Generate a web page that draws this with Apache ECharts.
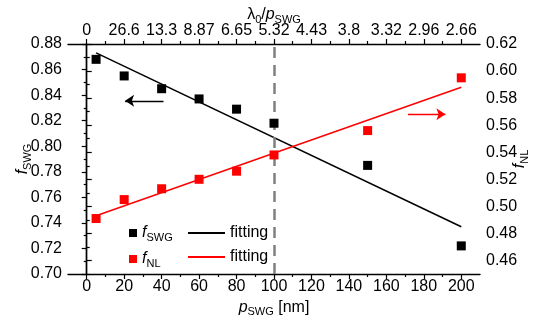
<!DOCTYPE html>
<html><head><meta charset="utf-8">
<script src="https://cdn.jsdelivr.net/npm/echarts@6/dist/echarts.min.js"></script>
<style>html,body{margin:0;padding:0;background:#fff}#c{width:538px;height:320px}</style>
</head><body><div id="c"></div>
<script>
// ---- data ----
const pSWG = [5, 20, 40, 60, 80, 100, 150, 200];
const fSWG = [0.868, 0.855, 0.845, 0.837, 0.829, 0.818, 0.785, 0.722];
const fNL  = [0.491, 0.505, 0.513, 0.520, 0.526, 0.538, 0.556, 0.595];
const fitX = [5, 200];
const fitSWG = [0.873, 0.737];
const fitNL  = [0.493, 0.588];
const bottomTicks = [0, 20, 40, 60, 80, 100, 120, 140, 160, 180, 200];
const bottomMinor = [10, 30, 50, 70, 90, 110, 130, 150, 170, 190];
const topLabels = ['0', '26.6', '13.3', '8.87', '6.65', '5.32', '4.43', '3.8', '3.32', '2.96', '2.66'];
const rightTicks = [0.46, 0.48, 0.50, 0.52, 0.54, 0.56, 0.58, 0.60, 0.62];
const rightMinor = [0.45, 0.47, 0.49, 0.51, 0.53, 0.55, 0.57, 0.59, 0.61];
const markX = 100;

const FONT = 'Liberation Sans';
const rich = {
  i: {fontStyle: 'italic', fontSize: 16, fontFamily: FONT, color: '#000', verticalAlign: 'middle', lineHeight: 20},
  n: {fontSize: 16, fontFamily: FONT, color: '#000', verticalAlign: 'middle', lineHeight: 20},
  s: {fontSize: 11, fontFamily: FONT, color: '#000', verticalAlign: 'bottom', lineHeight: 12}
};
const legendNames = {
  'fSWG': '{i|f}{s|SWG}',
  'fNL': '{i|f}{s|NL}',
  'fit1': '{n|fitting}',
  'fit2': '{n|fitting}'
};
const axisLine = {show: true, lineStyle: {color: '#000', width: 1.4}};
const lbl = {color: '#000', fontSize: 16, fontFamily: FONT};

const chart = echarts.init(document.getElementById('c'), null, {renderer: 'canvas'});
chart.setOption({
  animation: false,
  backgroundColor: '#fff',
  grid: {left: 68, right: 58, top: 44, bottom: 46, containLabel: false, outerBoundsMode: 'none'},
  legend: [
    {orient: 'vertical', left: 124, top: 220, itemWidth: 8, itemHeight: 8, itemGap: 8,
     data: [{name: 'fSWG', icon: 'rect'}, {name: 'fNL', icon: 'rect'}],
     formatter: n => legendNames[n], textStyle: {rich: rich}},
    {orient: 'vertical', left: 183, top: 220, itemWidth: 37, itemHeight: 2, itemGap: 8,
     data: [{name: 'fit1', icon: 'rect'}, {name: 'fit2', icon: 'rect'}],
     formatter: n => legendNames[n], textStyle: {rich: rich}}
  ],
  xAxis: [
    {type: 'value', position: 'bottom', min: -10, max: 210, splitLine: {show: false},
     axisLine: axisLine,
     axisTick: {show: true, length: 5, customValues: bottomTicks, lineStyle: {color: '#000', width: 1.2}},
     axisLabel: Object.assign({customValues: bottomTicks, margin: 5}, lbl),
     name: '{i|p}{s|SWG}{n| [nm]}', nameLocation: 'middle', nameGap: 20,
     nameTextStyle: {rich: rich}},
    {type: 'value', position: 'bottom', min: -10, max: 210, splitLine: {show: false},
     axisLine: {show: false},
     axisTick: {show: true, length: 3, customValues: bottomMinor, lineStyle: {color: '#000', width: 1.2}},
     axisLabel: {show: false}},
    {type: 'value', position: 'top', min: -10, max: 210, splitLine: {show: false},
     axisLine: axisLine,
     axisTick: {show: true, length: 5, customValues: bottomTicks, lineStyle: {color: '#000', width: 1.2}},
     axisLabel: Object.assign({customValues: bottomTicks, margin: 5,
       formatter: v => topLabels[bottomTicks.indexOf(Math.round(v))]}, lbl),
     name: '{n|λ}{s|0}{n|/}{i|p}{s|SWG}', nameLocation: 'middle', nameGap: 19,
     nameMoveOverlap: false,
     nameTextStyle: {rich: rich}},
    {type: 'value', position: 'top', min: -10, max: 210, splitLine: {show: false},
     axisLine: {show: false},
     axisTick: {show: true, length: 3, customValues: bottomMinor, lineStyle: {color: '#000', width: 1.2}},
     axisLabel: {show: false}}
  ],
  yAxis: [
    {type: 'value', position: 'left', min: 0.70, max: 0.88, interval: 0.02, splitLine: {show: false},
     axisLine: axisLine,
     axisTick: {show: true, length: 5, lineStyle: {color: '#000', width: 1.2}},
     minorTick: {show: true, splitNumber: 2, length: 3, lineStyle: {color: '#000', width: 1.2}},
     minorSplitLine: {show: false},
     axisLabel: Object.assign({margin: 6, formatter: v => v.toFixed(2)}, lbl),
     name: '{i|f}{s|SWG}', nameLocation: 'middle', nameGap: 35, nameRotate: 90,
     nameMoveOverlap: false,
     nameTextStyle: {rich: rich}},
    {type: 'value', position: 'right', min: 0.45, max: 0.62, splitLine: {show: false},
     axisLine: axisLine,
     axisTick: {show: true, length: 5, customValues: rightTicks, lineStyle: {color: '#000', width: 1.2}},
     axisLabel: Object.assign({customValues: rightTicks, margin: 6, formatter: v => v.toFixed(2)}, lbl),
     name: '{i|f}{s|NL}', nameLocation: 'middle', nameGap: 30, nameRotate: 90,
     nameMoveOverlap: false,
     nameTextStyle: {rich: rich}},
    {type: 'value', position: 'right', min: 0.45, max: 0.62, splitLine: {show: false},
     axisLine: {show: false},
     axisTick: {show: true, length: 3, customValues: rightMinor, lineStyle: {color: '#000', width: 1.2}},
     axisLabel: {show: false}}
  ],
  series: [
    {name: 'fit1', type: 'line', xAxisIndex: 0, yAxisIndex: 0, symbol: 'none',
     lineStyle: {color: '#000', width: 1.5}, itemStyle: {color: '#000'},
     data: fitX.map((x, i) => [x, fitSWG[i]]), z: 2,
     markLine: {silent: true, symbol: ['none', 'none'], label: {show: false},
       lineStyle: {color: '#808080', width: 2.5, type: [11, 7]},
       data: [{xAxis: markX}]}},
    {name: 'fit2', type: 'line', xAxisIndex: 0, yAxisIndex: 1, symbol: 'none',
     lineStyle: {color: '#ff0000', width: 1.5}, itemStyle: {color: '#ff0000'},
     data: fitX.map((x, i) => [x, fitNL[i]]), z: 2},
    {name: 'fSWG', type: 'scatter', xAxisIndex: 0, yAxisIndex: 0, symbol: 'rect', symbolSize: 9,
     itemStyle: {color: '#000', opacity: 1}, data: pSWG.map((x, i) => [x, fSWG[i]]), z: 5,
     markLine: {silent: true, symbol: ['none', 'arrow'], symbolSize: 9, label: {show: false},
       lineStyle: {color: '#000', width: 1.3, type: 'solid'}, itemStyle: {color: '#000'},
       data: [[{coord: [41, 0.8355]}, {coord: [20.5, 0.8355]}]]}},
    {name: 'fNL', type: 'scatter', xAxisIndex: 0, yAxisIndex: 1, symbol: 'rect', symbolSize: 9,
     itemStyle: {color: '#ff0000', opacity: 1}, data: pSWG.map((x, i) => [x, fNL[i]]), z: 5,
     markLine: {silent: true, symbol: ['none', 'arrow'], symbolSize: 9, label: {show: false},
       lineStyle: {color: '#ff0000', width: 1.3, type: 'solid'}, itemStyle: {color: '#ff0000'},
       data: [[{coord: [171.5, 0.568]}, {coord: [191.5, 0.568]}]]}}
  ]
});
</script></body></html>
